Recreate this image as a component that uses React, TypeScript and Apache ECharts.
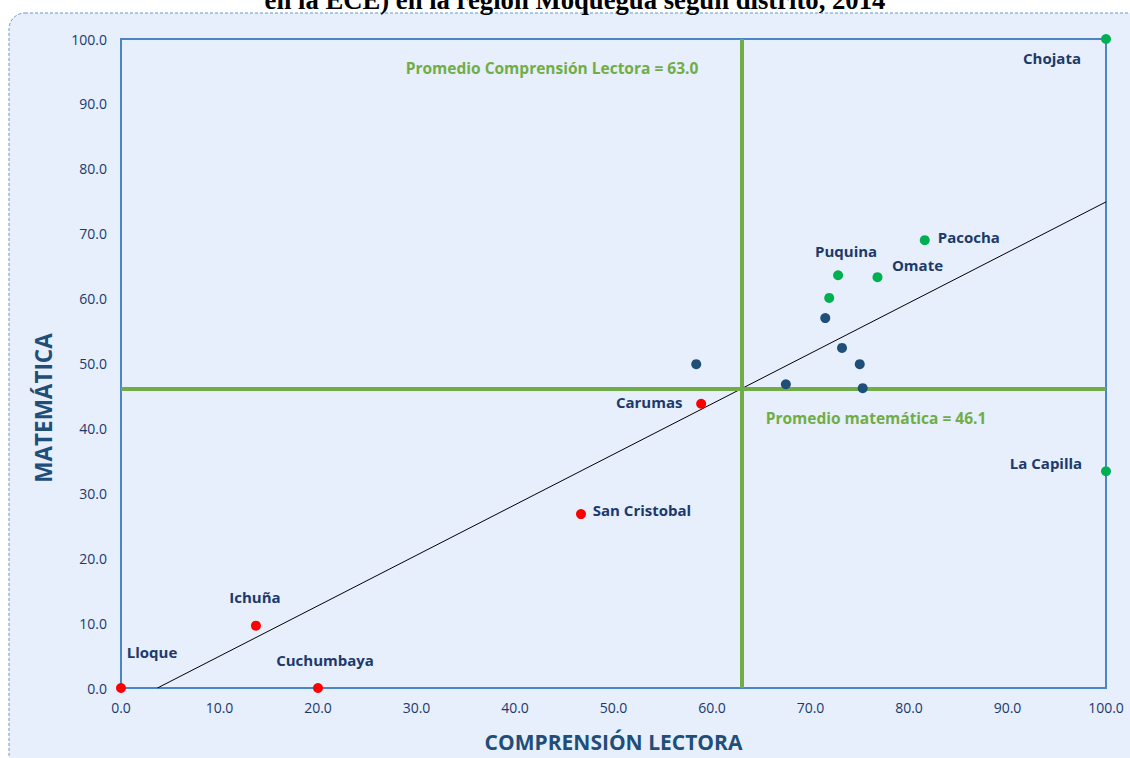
import React, { useEffect, useRef } from "react";
import * as echarts from "echarts";

const titleText = "en la ECE) en la región Moquegua según distrito, 2014";
const xAxisName = "COMPRENSIÓN LECTORA";
const yAxisName = "MATEMÁTICA";

// [comprension, matematica, name]
const redPoints: [number, number, string][] = [
  [0.0, 0.0, "Lloque"],
  [20.0, 0.0, "Cuchumbaya"],
  [13.7, 9.6, "Ichuña"],
  [46.7, 26.8, "San Cristobal"],
  [58.9, 43.8, "Carumas"],
];
const bluePoints: [number, number, string][] = [
  [58.4, 49.9, ""],
  [67.5, 46.8, ""],
  [71.5, 57.0, ""],
  [73.2, 52.4, ""],
  [75.0, 49.9, ""],
  [75.3, 46.2, ""],
];
const greenPoints: [number, number, string][] = [
  [71.9, 60.1, ""],
  [72.8, 63.6, "Puquina"],
  [76.8, 63.3, "Omate"],
  [81.6, 69.0, "Pacocha"],
  [100.0, 33.4, "La Capilla"],
  [100.0, 100.0, "Chojata"],
];

const avgLectura = 63.0;
const avgMatematica = 46.1;
const trendLine: [number, number][] = [
  [3.7, 0.0],
  [100.0, 74.9],
];

const labelOffsets: Record<string, [number, number]> = {
  Chojata: [-54, 19],
  Pacocha: [44, -3],
  Omate: [40, -12],
  Puquina: [8, -24],
  "La Capilla": [-60, -8],
  Carumas: [-52, -2],
  "San Cristobal": [61, -4],
  "Ichuña": [-1, -29],
  Cuchumbaya: [7, -28],
  Lloque: [31, -36],
};

const NAVY = "#1B3A6B";
const AXIS_NAME = "#1F4E79";
const GREEN_LINE = "#70AD47";
const FONT = "'Open Sans', 'Noto Sans', sans-serif";

function toData(points: [number, number, string][]) {
  return points.map(([x, y, name]) => {
    const off = labelOffsets[name];
    return {
      value: [x, y],
      name,
      label: off
        ? {
            show: true,
            formatter: name,
            position: "inside",
            offset: off,
            color: NAVY,
            opacity: 1,
            fontWeight: "bold",
            fontSize: 15,
            fontFamily: FONT,
          }
        : { show: false },
    };
  });
}

export default function App() {
  const ref = useRef<HTMLDivElement>(null);
  useEffect(() => {
    if (!ref.current) return;
    const chart = echarts.init(ref.current, undefined, { renderer: "svg" });
    const scatterBase = {
      type: "scatter",
      symbol: "circle",
      symbolSize: 10,
      z: 5,
    };
    chart.setOption({
      animation: false,
      backgroundColor: "#ffffff",
      graphic: [
        {
          type: "rect",
          shape: { x: 9, y: 13, width: 1140, height: 770, r: 16 },
          style: {
            fill: "#E7EEFC",
            stroke: "#5B9BD5",
            lineWidth: 1,
            lineDash: [3, 2],
          },
          z: -10,
          silent: true,
        },
        {
          type: "text",
          x: 575,
          y: 0,
          style: {
            text: titleText,
            fill: "#000000",
            font: "bold 26.7px 'Liberation Serif', 'Times New Roman', serif",
            textAlign: "center",
            textVerticalAlign: "middle",
          },
        },
        {
          type: "text",
          x: 552,
          y: 68,
          style: {
            text: `Promedio Comprensión Lectora = ${avgLectura.toFixed(1)}`,
            fill: GREEN_LINE,
            font: `bold 15.5px ${FONT}`,
            textAlign: "center",
            textVerticalAlign: "middle",
          },
        },
        {
          type: "text",
          x: 876,
          y: 418,
          style: {
            text: `Promedio matemática = ${avgMatematica.toFixed(1)}`,
            fill: GREEN_LINE,
            font: `bold 15.5px ${FONT}`,
            textAlign: "center",
            textVerticalAlign: "middle",
          },
        },
        {
          type: "text",
          x: 43,
          y: 408,
          rotation: Math.PI / 2,
          style: {
            text: yAxisName,
            fill: AXIS_NAME,
            font: `bold 22.5px ${FONT}`,
            textAlign: "center",
            textVerticalAlign: "middle",
          },
        },
      ],
      grid: {
        left: 121,
        right: 24,
        top: 39,
        bottom: 70,
        show: true,
        borderColor: "#4A86C5",
        borderWidth: 2,
        backgroundColor: "transparent",
      },
      xAxis: {
        type: "value",
        min: 0,
        max: 100,
        interval: 10,
        name: xAxisName,
        nameLocation: "middle",
        nameGap: 43,
        nameTextStyle: {
          color: AXIS_NAME,
          fontWeight: "bold",
          fontSize: 21,
          fontFamily: FONT,
        },
        axisLine: { show: true, lineStyle: { color: "#4A86C5", width: 2 } },
        axisTick: { show: false },
        splitLine: { show: false },
        axisLabel: {
          color: NAVY,
          fontSize: 14,
          fontFamily: FONT,
          margin: 12,
          formatter: (v: number) => v.toFixed(1),
        },
      },
      yAxis: {
        type: "value",
        min: 0,
        max: 100,
        interval: 10,
        axisLine: { show: true, lineStyle: { color: "#4A86C5", width: 2 } },
        axisTick: { show: false },
        splitLine: { show: false },
        axisLabel: {
          color: NAVY,
          fontSize: 14,
          fontFamily: FONT,
          margin: 14,
          formatter: (v: number) => v.toFixed(1),
        },
      },
      series: [
        {
          type: "line",
          data: trendLine,
          symbol: "none",
          lineStyle: { color: "#000000", width: 1 },
          z: 3,
          markLine: {
            silent: true,
            symbol: "none",
            label: { show: false },
            lineStyle: { color: GREEN_LINE, width: 4, type: "solid" },
            data: [{ xAxis: avgLectura }, { yAxis: avgMatematica }],
          },
        },
        { ...scatterBase, data: toData(redPoints), itemStyle: { color: "#FF0000", opacity: 1 } },
        { ...scatterBase, data: toData(bluePoints), itemStyle: { color: "#1F4E79", opacity: 1 } },
        { ...scatterBase, data: toData(greenPoints), itemStyle: { color: "#00B050", opacity: 1 } },
      ],
    });
    return () => chart.dispose();
  }, []);
  return (
    <div
      ref={ref}
      style={{ position: "fixed", left: 0, top: 0, width: 1130, height: 758 }}
    />
  );
}
